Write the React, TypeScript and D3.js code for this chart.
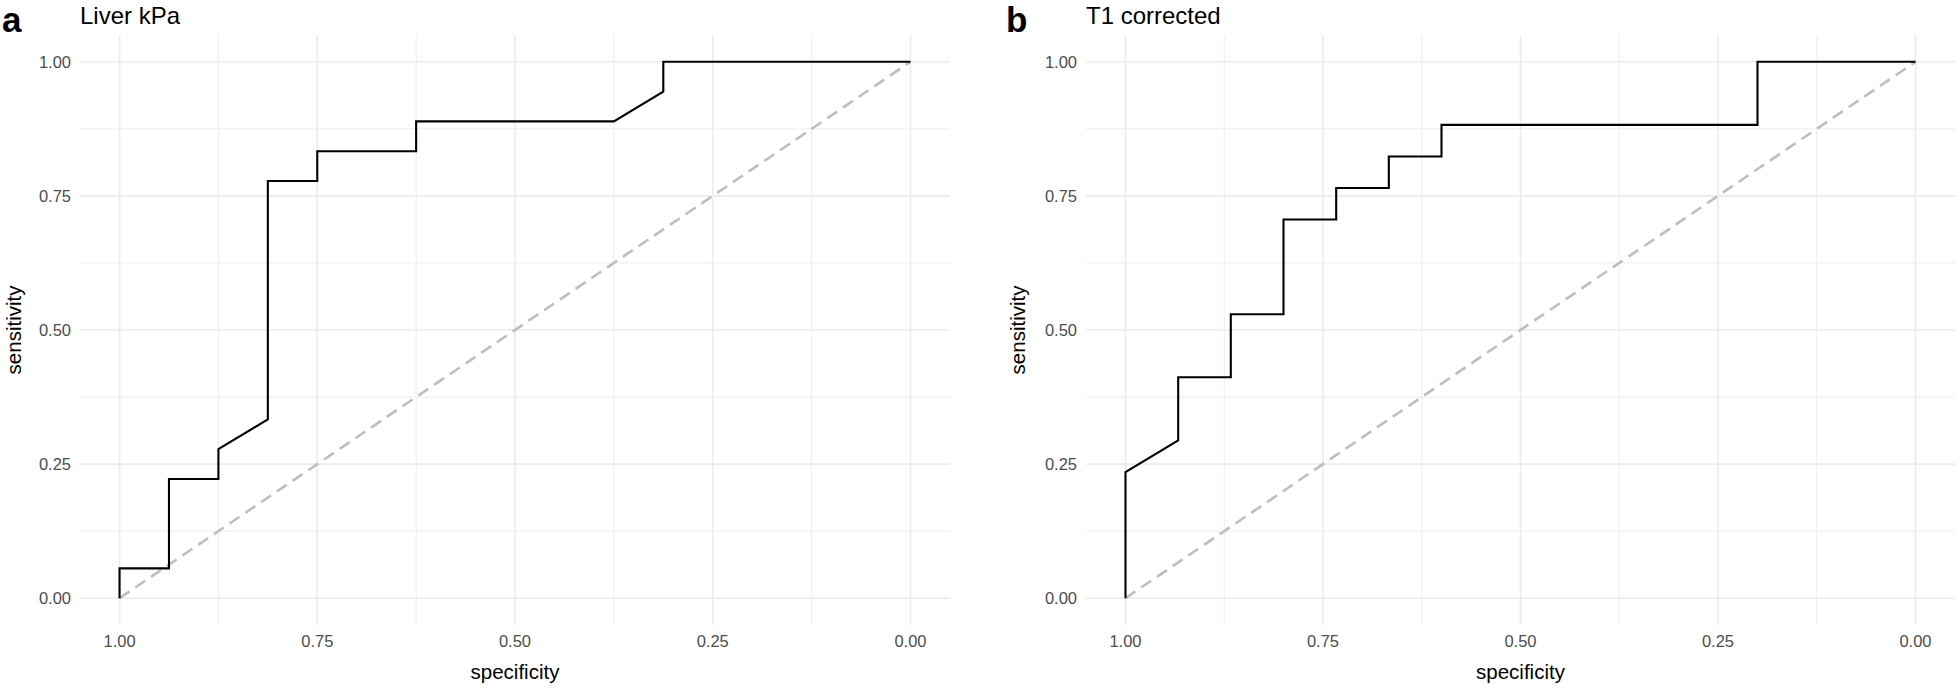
import React from "react";
import * as d3 from "d3";

// ---- Data ----
const specA = [1.0, 1.0, 0.9375, 0.9375, 0.875, 0.875, 0.8125, 0.8125, 0.75, 0.75, 0.625, 0.625, 0.375, 0.3125, 0.3125, 0.0];
const sensA = [0.0, 0.0556, 0.0556, 0.2222, 0.2222, 0.2778, 0.3333, 0.7778, 0.7778, 0.8333, 0.8333, 0.8889, 0.8889, 0.9444, 1.0, 1.0];

const specB = [1.0, 1.0, 0.9333, 0.9333, 0.8667, 0.8667, 0.8, 0.8, 0.7333, 0.7333, 0.6667, 0.6667, 0.6, 0.6, 0.2, 0.2, 0.0];
const sensB = [0.0, 0.2353, 0.2941, 0.4118, 0.4118, 0.5294, 0.5294, 0.7059, 0.7059, 0.7647, 0.7647, 0.8235, 0.8235, 0.8824, 0.8824, 1.0, 1.0];

const majorTicks = [0, 0.25, 0.5, 0.75, 1.0];
const minorTicks = [0.125, 0.375, 0.625, 0.875];
const tickLabels = ["0.00", "0.25", "0.50", "0.75", "1.00"];
const diagSpec = [1, 0];
const diagSens = [0, 1];

const titles = ["Liver kPa", "T1 corrected"];
const tags = ["a", "b"];

const FONT = "'Liberation Sans', Arial, Helvetica, sans-serif";

type PanelProps = {
  left: number;
  right: number;
  spec: number[];
  sens: number[];
  title: string;
  tag: string;
  tagX: number;
  yLabelRight: number;
  yTitleX: number;
};

function Panel({ left, right, spec, sens, title, tag, tagX, yLabelRight, yTitleX }: PanelProps) {
  const top = 35;
  const bottom = 625;
  const xr = (right - left) * 0.05 / 1.1;
  const yr = (bottom - top) * 0.05 / 1.1;
  const x = d3.scaleLinear().domain([1, 0]).range([left + xr, right - xr]);
  const y = d3.scaleLinear().domain([0, 1]).range([bottom - yr, top + yr]);

  const pts: [number, number][] = spec.map((s, i) => [s, sens[i]]);
  const diag: [number, number][] = diagSpec.map((s, i) => [s, diagSens[i]]);
  const line = d3
    .line<[number, number]>()
    .x((d) => x(d[0]))
    .y((d) => y(d[1]));

  const grid = "#EBEBEB";
  return (
    <g>
      {minorTicks.map((t) => (
        <g key={"mn" + t}>
          <line x1={left} x2={right} y1={y(t)} y2={y(t)} stroke={grid} strokeWidth={0.9} />
          <line x1={x(t)} x2={x(t)} y1={top} y2={bottom} stroke={grid} strokeWidth={0.9} />
        </g>
      ))}
      {majorTicks.map((t) => (
        <g key={"mj" + t}>
          <line x1={left} x2={right} y1={y(t)} y2={y(t)} stroke={grid} strokeWidth={1.6} />
          <line x1={x(t)} x2={x(t)} y1={top} y2={bottom} stroke={grid} strokeWidth={1.6} />
        </g>
      ))}
      <path d={line(diag) || ""} fill="none" stroke="#BEBEBE" strokeWidth={2.6} strokeDasharray="12 7" />
      <path d={line(pts) || ""} fill="none" stroke="#000" strokeWidth={2.1} strokeLinejoin="miter" />
      {majorTicks.map((t, i) => (
        <text
          key={"yl" + t}
          x={yLabelRight}
          y={y(t)}
          textAnchor="end"
          dominantBaseline="central"
          fontSize={16.5}
          fill="#4D4D4D"
          fontFamily={FONT}
        >
          {tickLabels[i]}
        </text>
      ))}
      {majorTicks.map((t, i) => (
        <text
          key={"xl" + t}
          x={x(t)}
          y={641}
          textAnchor="middle"
          dominantBaseline="central"
          fontSize={16.5}
          fill="#4D4D4D"
          fontFamily={FONT}
        >
          {tickLabels[i]}
        </text>
      ))}
      <text
        x={(left + right) / 2}
        y={671}
        textAnchor="middle"
        dominantBaseline="central"
        fontSize={20.5}
        fill="#000"
        fontFamily={FONT}
      >
        specificity
      </text>
      <text
        transform={`translate(${yTitleX},${(top + bottom) / 2}) rotate(-90)`}
        textAnchor="middle"
        dominantBaseline="central"
        fontSize={20.5}
        fill="#000"
        fontFamily={FONT}
      >
        sensitivity
      </text>
      <text x={left} y={24} fontSize={24} fill="#000" fontFamily={FONT}>
        {title}
      </text>
      <text x={tagX} y={32} fontSize={35} fontWeight="bold" fill="#000" fontFamily={FONT}>
        {tag}
      </text>
    </g>
  );
}

export default function App() {
  return (
    <svg
      width={1960}
      height={689}
      style={{ position: "absolute", left: 0, top: 0, display: "block", background: "#fff" }}
    >
      <rect x={0} y={0} width={1960} height={689} fill="#fff" />
      <Panel
        left={80}
        right={950}
        spec={specA}
        sens={sensA}
        title={titles[0]}
        tag={tags[0]}
        tagX={2}
        yLabelRight={71}
        yTitleX={13}
      />
      <Panel
        left={1086}
        right={1955}
        spec={specB}
        sens={sensB}
        title={titles[1]}
        tag={tags[1]}
        tagX={1006}
        yLabelRight={1077}
        yTitleX={1017}
      />
    </svg>
  );
}
